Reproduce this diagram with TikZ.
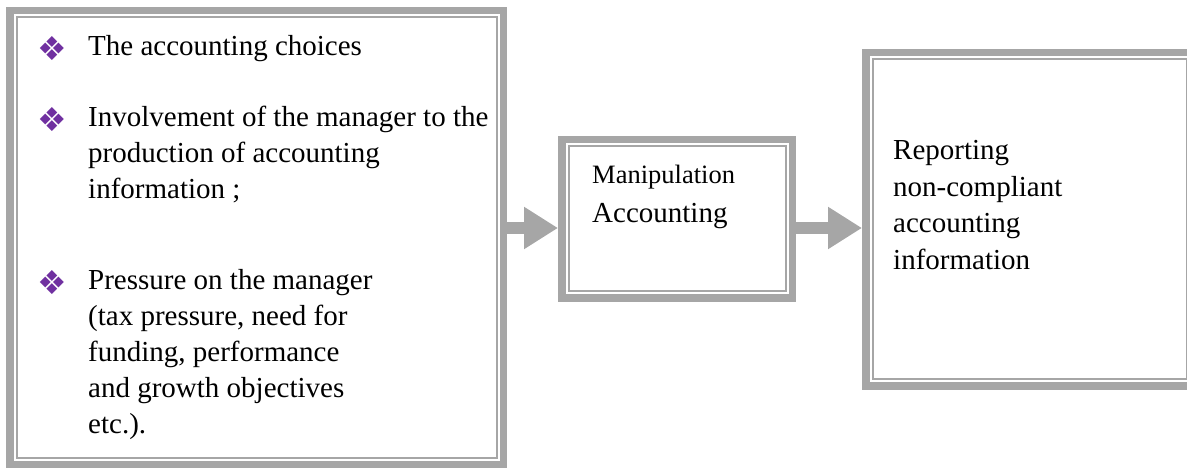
\documentclass[tikz,border=0pt]{standalone}
\usepackage{fontspec}
\setmainfont{Liberation Serif}
\newfontfamily\symfont{DejaVu Sans}
\usetikzlibrary{arrows.meta}
\definecolor{bordergray}{RGB}{166,166,166}
\definecolor{bulletpurple}{RGB}{112,48,160}
\tikzset{
  framebox/.style={draw=bordergray, line width=7.5pt, outer sep=3.75pt, inner sep=0pt, rectangle},
  thinframe/.style={draw=bordergray, line width=2pt},
  bigarrow/.style={draw=bordergray, line width=12pt, -{Triangle[length=34pt, width=40pt]}},
  txt/.style={anchor=base west, inner sep=0pt, font=\fontsize{29}{36}\selectfont},
  smalltxt/.style={anchor=base west, inner sep=0pt, font=\fontsize{26.5}{32}\selectfont},
  bulletmark/.style={anchor=center, inner sep=0pt, text=bulletpurple, font=\symfont\fontsize{33}{33}\selectfont},
}
\begin{document}
\begin{tikzpicture}[x=1pt, y=-1pt]
\useasboundingbox (0,0) rectangle (1187,470);
% boxes (outer thick band)
\node[framebox, minimum width=493.5pt, minimum height=453.5pt] (left) at (256.5,237.5) {};
\node[framebox, minimum width=230.5pt, minimum height=158.5pt] (mid) at (677,219) {};
\node[framebox, minimum width=327.5pt, minimum height=333.5pt] (right) at (1029.5,219.5) {};
% inner thin lines
\draw[thinframe] ([shift={(10.5,10.5)}]left.north west) rectangle ([shift={(-10.5,-10.5)}]left.south east);
\draw[thinframe] ([shift={(10.5,10.5)}]mid.north west) rectangle ([shift={(-10.5,-10.5)}]mid.south east);
\draw[thinframe] ([shift={(10.5,10.5)}]right.north west) rectangle ([shift={(-10.5,-10.5)}]right.south east);
% arrows
\coordinate (ay) at (0,228);
\draw[bigarrow] (left.east |- ay) -- (mid.west |- ay);
\draw[bigarrow] (mid.east |- ay) -- (right.west |- ay);
% left box content
\node[bulletmark] (b1) at (52,49) {❖};
\node[txt] (l1) at (88,56) {The accounting choices};
\node[bulletmark] (b2) at (52,120) {❖};
\node[txt] (l2a) at (88,127) {Involvement of the manager to the};
\node[txt] (l2b) at (88,163) {production of accounting};
\node[txt] (l2c) at (88,199) {information~;};
\node[bulletmark] (b3) at (52,283) {❖};
\node[txt] (l3a) at (88,290) {Pressure on the manager};
\node[txt] (l3b) at (88,326) {(tax pressure, need for};
\node[txt] (l3c) at (88,362) {funding, performance};
\node[txt] (l3d) at (88,398) {and growth objectives};
\node[txt] (l3e) at (88,434) {etc.).};
% middle box content
\node[smalltxt] (m1) at (592,184) {Manipulation};
\node[txt] (m2) at (592,223) {Accounting};
% right box content
\node[txt] (r1) at (893,160) {Reporting};
\node[txt] (r2) at (893,197) {non-compliant};
\node[txt] (r3) at (893,233) {accounting};
\node[txt] (r4) at (893,270) {information};
\end{tikzpicture}
\end{document}
